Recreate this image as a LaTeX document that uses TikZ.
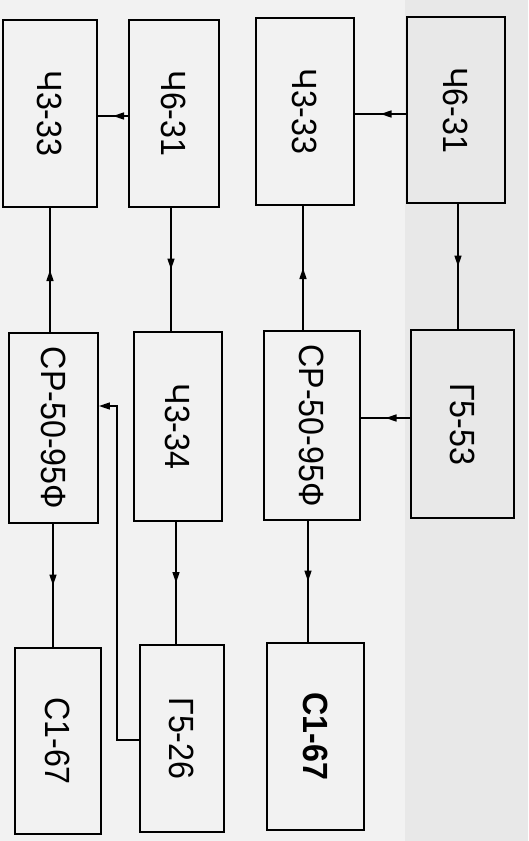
\documentclass[tikz,border=0pt]{standalone}
\usepackage{fontspec}
\newfontfamily\lblfont[FakeStretch=0.92]{Liberation Sans}
\usetikzlibrary{arrows.meta,decorations.markings}

\tikzset{
  unit/.style={draw=black, line width=1.9pt, inner sep=0pt, minimum width=#1},
  unit/.default=92pt,
  link/.style={line width=1.4pt},
  tip/.tip={Triangle[length=11pt,width=7pt]},
  midarrow/.style={link, postaction={decorate}, decoration={markings,
      mark=at position 0.5 with {\arrow{tip}}}},
  endarrow/.style={link, -tip},
}
\newcommand{\lbl}[1]{\rotatebox{-90}{\lblfont\fontsize{35}{35}\selectfont #1}}

\begin{document}
\begin{tikzpicture}[x=1pt, y=-1pt]
  % sheet
  \fill[black!5] (0,0) rectangle (528,841);
  \fill[black!9] (405,0) rectangle (528,841);
  \useasboundingbox (0,0) rectangle (528,841);

  % left scheme
  \node[unit=94pt, minimum height=187pt] (a1) at (50,113.5) {\lbl{Ч3-33}};
  \node[unit=89pt, minimum height=190pt] (b1) at (53.5,428) {\lbl{СР-50-95Ф}};
  \node[unit=86pt, minimum height=186pt] (c1) at (58,741) {\lbl{С1-67}};
  \node[unit=90pt, minimum height=187pt] (a2) at (174,113.5) {\lbl{Ч6-31}};
  \node[unit=88pt, minimum height=189pt] (b2) at (178,426.5) {\lbl{Ч3-34}};
  \node[unit=84pt, minimum height=187pt] (c2) at (182,738.5) {\lbl{Г5-26}};

  % right scheme
  \node[unit=98pt, minimum height=187pt] (a3) at (305,111.5) {\lbl{Ч3-33}};
  \node[unit=96pt, minimum height=189pt] (b3) at (312,425.5) {\lbl{СР-50-95Ф}};
  \node[unit=97pt, minimum height=187pt] (c3) at (315.5,736.5) {\lbl{\bfseries С1-67}};
  \node[unit=98pt, minimum height=186pt] (a4) at (456,110) {\lbl{Ч6-31}};
  \node[unit=103pt, minimum height=188pt] (b4) at (462.5,424) {\lbl{Г5-53}};

  % left scheme links
  \draw[midarrow] (a2.west |- 0,116) -- (a1.east |- 0,116);
  \draw[midarrow] (b1.north -| 50,0) -- (a1.south -| 50,0);
  \draw[midarrow] (b1.south -| 53,0) -- (c1.north -| 53,0);
  \draw[midarrow] (a2.south -| 171,0) -- (b2.north -| 171,0);
  \draw[midarrow] (b2.south -| 176,0) -- (c2.north -| 176,0);
  \coordinate (kb) at (117,740);
  \coordinate (kt) at (117,406);
  \draw[endarrow] (c2.west |- kb) -- (kb) -- (kt) -- (b1.east |- kt);

  % right scheme links
  \draw[midarrow] (a4.west |- 0,114) -- (a3.east |- 0,114);
  \draw[midarrow] (b3.north -| 303,0) -- (a3.south -| 303,0);
  \draw[midarrow] (b3.south -| 308,0) -- (c3.north -| 308,0);
  \draw[midarrow] (a4.south -| 458,0) -- (b4.north -| 458,0);
  \draw[midarrow] (b4.west |- 0,418) -- (b3.east |- 0,418);
\end{tikzpicture}
\end{document}
